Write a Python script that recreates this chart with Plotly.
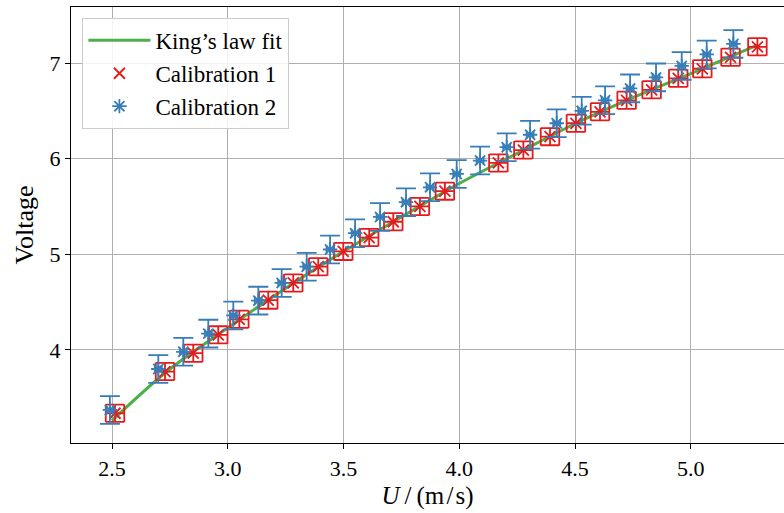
import plotly.graph_objects as go

# Calibration 1 (red)
u1 = [2.513, 2.729, 2.851, 2.959, 3.05, 3.175, 3.283, 3.391, 3.499, 3.611, 3.715, 3.83,
      3.938, 4.169, 4.277, 4.392, 4.504, 4.608, 4.723, 4.831, 4.946, 5.05, 5.172, 5.288]
v1 = [3.337, 3.773, 3.965, 4.157, 4.32, 4.52, 4.70, 4.87, 5.03, 5.175, 5.34, 5.50,
      5.66, 5.955, 6.09, 6.23, 6.37, 6.49, 6.61, 6.72, 6.84, 6.94, 7.06, 7.17]
u1_err = [0.04] * len(u1)
v1_err = [0.09] * len(v1)

# Calibration 2 (blue)
u2 = [2.491, 2.70, 2.808, 2.916, 3.024, 3.132, 3.233, 3.341, 3.442, 3.55, 3.658, 3.77, 3.874,
      3.989, 4.09, 4.205, 4.306, 4.421, 4.529, 4.63, 4.738, 4.85, 4.961, 5.069, 5.184]
v2 = [3.372, 3.80, 3.98, 4.17, 4.36, 4.515, 4.70, 4.87, 5.05, 5.22, 5.39, 5.545, 5.70,
      5.84, 5.98, 6.12, 6.25, 6.37, 6.50, 6.61, 6.735, 6.85, 6.97, 7.09, 7.20]
u2_err = [0.015] * len(u2)
v2_err = [0.145] * len(v2)

# King's law fit
u_fit = [2.5, 2.75, 3.0, 3.25, 3.5, 3.75, 4.0, 4.25, 4.5, 4.75, 5.0, 5.29]
v_fit = [3.26, 3.80, 4.23, 4.645, 5.03, 5.39, 5.74, 6.055, 6.365, 6.637, 6.89, 7.19]

x_ticks = [2.5, 3.0, 3.5, 4.0, 4.5, 5.0]
y_ticks = [4, 5, 6, 7]

RED = "#e41a1c"
BLUE = "#377eb8"
GREEN = "#4daf4a"
FONT = "Liberation Serif"

fig = go.Figure()
fig.add_trace(go.Scatter(
    x=u_fit, y=v_fit, mode="lines", name="King\u2019s law fit",
    line=dict(color=GREEN, width=3, shape="spline"), legendgroup="a"))
fig.add_trace(go.Scatter(
    x=u1, y=v1, mode="markers", name="Calibration 1", legendgroup="b",
    marker=dict(symbol="x-thin-open", size=11, color=RED, line=dict(color=RED, width=1.8)),
    error_x=dict(type="data", array=u1_err, color=RED, thickness=1.8, width=9),
    error_y=dict(type="data", array=v1_err, color=RED, thickness=1.8, width=9)))
fig.add_trace(go.Scatter(
    x=u2, y=v2, mode="markers", name="Calibration 2", legendgroup="c",
    marker=dict(symbol="asterisk-open", size=12, color=BLUE, line=dict(color=BLUE, width=1.8)),
    error_x=dict(type="data", array=u2_err, color=BLUE, thickness=1.8, width=4),
    error_y=dict(type="data", array=v2_err, color=BLUE, thickness=1.8, width=10)))

fig.update_layout(
    width=784, height=513,
    margin=dict(l=71, r=0, t=7, b=70),
    plot_bgcolor="white", paper_bgcolor="white",
    font=dict(family=FONT, size=20, color="black"),
    legend=dict(x=0.016, y=0.975, xanchor="left", yanchor="top",
                bgcolor="rgba(255,255,255,0.85)", bordercolor="#cccccc", borderwidth=1,
                font=dict(family=FONT, size=23), tracegroupgap=0, itemwidth=62),
    xaxis=dict(range=[2.3229, 5.4028], tickvals=x_ticks, ticktext=[f"{t:.1f}" for t in x_ticks],
               showgrid=True, gridcolor="#b0b0b0", gridwidth=1,
               showline=True, linecolor="black", linewidth=1.3, mirror=True,
               ticks="outside", ticklen=5, tickcolor="black", zeroline=False,
               title=dict(text="<i>U</i>\u2009/\u2009(m\u200a/\u200as)", font=dict(size=25), standoff=6),
               tickfont=dict(size=22)),
    yaxis=dict(range=[3.026, 7.586], tickvals=y_ticks, ticktext=[str(t) for t in y_ticks],
               showgrid=True, gridcolor="#b0b0b0", gridwidth=1,
               showline=True, linecolor="black", linewidth=1.3, mirror=False,
               ticks="outside", ticklen=5, tickcolor="black", zeroline=False,
               title=dict(text="Voltage", font=dict(size=26), standoff=8),
               tickfont=dict(size=22)),
)

fig.write_html("out.html")
